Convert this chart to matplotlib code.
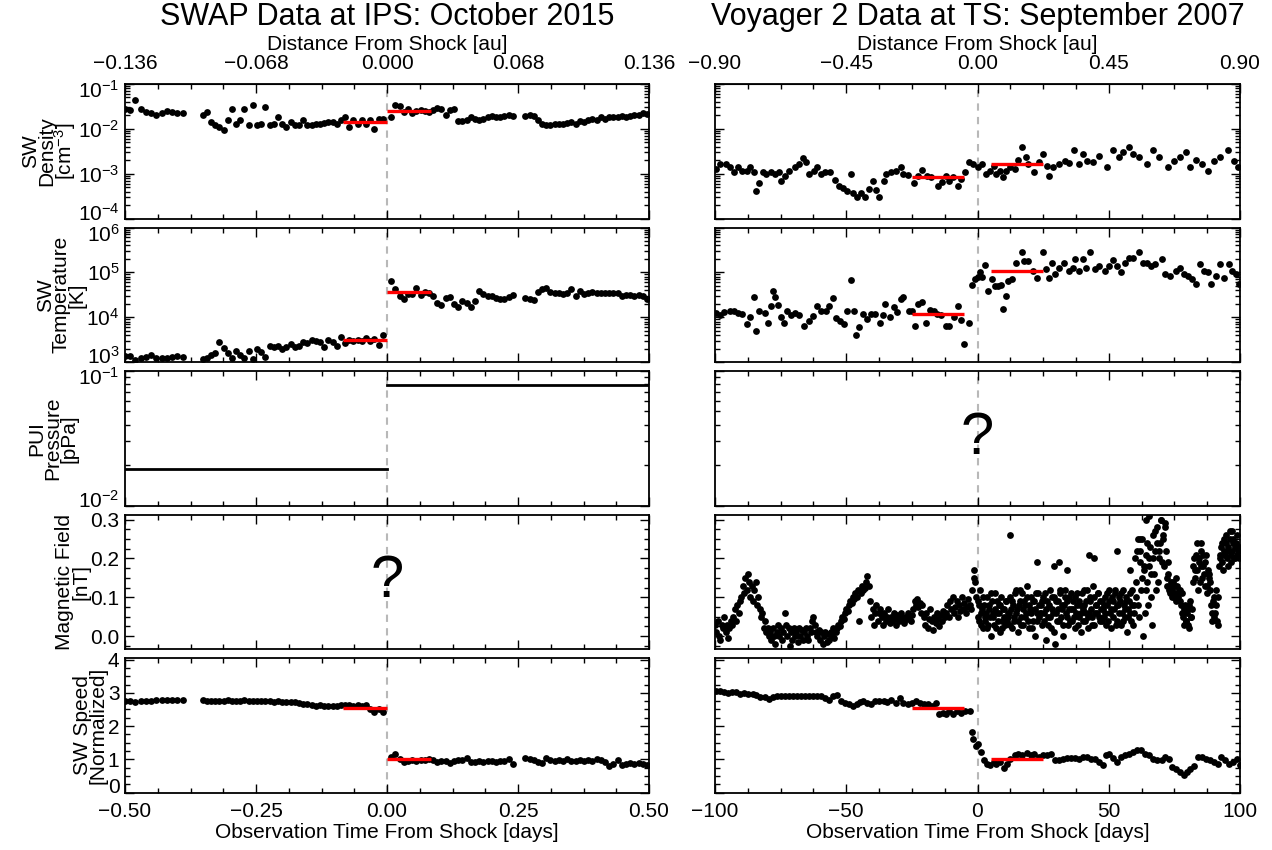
import math
import matplotlib
matplotlib.use("Agg")
import matplotlib.pyplot as plt
from matplotlib.ticker import MultipleLocator, LogLocator, NullFormatter, FuncFormatter, FixedLocator
from matplotlib.transforms import ScaledTranslation

plt.rcParams['font.family'] = ['Liberation Sans', 'DejaVu Sans']
plt.rcParams['mathtext.fontset'] = 'custom'
plt.rcParams['mathtext.rm'] = 'Liberation Sans'
plt.rcParams['mathtext.it'] = 'Liberation Sans:italic'
plt.rcParams['mathtext.bf'] = 'Liberation Sans:bold'

# ---------------- SWAP / IPS (October 2015), time in days ----------------
ips_t = [-0.500, -0.490, -0.480, -0.470, -0.460, -0.450, -0.440, -0.430, -0.420, -0.410, -0.400, -0.390,
         -0.352, -0.344, -0.336, -0.328, -0.320, -0.312, -0.304, -0.296, -0.288, -0.280, -0.272, -0.264,
         -0.256, -0.248, -0.240, -0.232, -0.224, -0.216, -0.208, -0.200, -0.192, -0.184, -0.176, -0.168,
         -0.160, -0.152, -0.144, -0.136, -0.128, -0.120, -0.112, -0.104, -0.096, -0.088, -0.080, -0.072,
         -0.064, -0.056, -0.048, -0.040, -0.032, -0.024, -0.016, -0.008,
         0.008, 0.016, 0.024, 0.032, 0.040, 0.048, 0.056, 0.064, 0.072, 0.080,
         0.088, 0.096, 0.104, 0.112, 0.120, 0.128, 0.136, 0.144, 0.152, 0.160,
         0.168, 0.176, 0.184, 0.192, 0.200, 0.208, 0.216, 0.224, 0.232, 0.240,
         0.264, 0.272, 0.280, 0.288, 0.296, 0.304, 0.312, 0.320, 0.328, 0.336,
         0.344, 0.352, 0.360, 0.368, 0.376, 0.384, 0.392, 0.400, 0.408, 0.416,
         0.424, 0.432, 0.440, 0.448, 0.456, 0.464, 0.472, 0.480, 0.488, 0.496]
ips_density = [0.028, 0.026, 0.045, 0.028, 0.024, 0.022, 0.020, 0.023, 0.025, 0.024, 0.023, 0.022,
               0.020, 0.024, 0.014, 0.012, 0.011, 0.0095, 0.016, 0.028, 0.013, 0.016,
               0.028, 0.012, 0.034, 0.012, 0.013, 0.030, 0.012, 0.013, 0.018, 0.013,
               0.011, 0.014, 0.012, 0.012, 0.016, 0.012, 0.012, 0.0125, 0.013, 0.0135,
               0.014, 0.014, 0.013, 0.016, 0.018, 0.011, 0.016, 0.013, 0.016, 0.013,
               0.016, 0.0098, 0.017, 0.017,
               0.018, 0.034, 0.033, 0.024, 0.027, 0.023, 0.025, 0.026, 0.025, 0.024,
               0.026, 0.029, 0.028, 0.020, 0.026, 0.027, 0.015, 0.015, 0.016, 0.018,
               0.017, 0.016, 0.017, 0.018, 0.019, 0.018, 0.018, 0.019, 0.020, 0.019,
               0.019, 0.020, 0.019, 0.016, 0.013, 0.012, 0.012, 0.0125, 0.013, 0.013,
               0.0135, 0.014, 0.013, 0.015, 0.014, 0.016, 0.017, 0.016, 0.018, 0.017,
               0.018, 0.018, 0.018, 0.019, 0.018, 0.019, 0.020, 0.020, 0.022, 0.021]
ips_temp = [1350, 1350, 1100, 1200, 1300, 1400, 1250, 1250, 1250, 1300, 1350, 1300,
            1170, 1200, 1400, 1560, 2750, 2100, 1600, 1200, 1750, 1400,
            1250, 1750, 1150, 1950, 1650, 1270, 2300, 2150, 2300, 2000,
            2150, 2500, 2150, 2300, 2750, 2650, 3050, 2900, 2750, 2150,
            3150, 2750, 2300, 3700, 2600, 3150, 3000, 3100, 3000, 3500,
            3000, 3200, 2450, 4100,
            65000, 43000, 29500, 25000, 33000, 33000, 45000, 31000, 37000, 34000,
            29500, 21000, 18500, 27000, 28000, 19500, 17000, 23000, 20500, 17000,
            23000, 38000, 33000, 29500, 30000, 27000, 25000, 26000, 28000, 32000,
            27000, 26000, 24000, 37000, 42000, 45000, 37000, 35000, 35000, 33000,
            35000, 43000, 29500, 38000, 33000, 35000, 37000, 35000, 35000, 34000,
            35000, 34000, 35000, 30000, 31000, 31000, 30000, 31000, 29000, 26000]
ips_speed = [2.77, 2.77, 2.73, 2.75, 2.77, 2.75, 2.78, 2.78, 2.78, 2.78, 2.79, 2.80,
             2.78, 2.75, 2.76, 2.77, 2.76, 2.77, 2.78, 2.77, 2.76, 2.77,
             2.78, 2.77, 2.76, 2.77, 2.75, 2.76, 2.75, 2.74, 2.75, 2.74,
             2.73, 2.74, 2.72, 2.68, 2.66, 2.65, 2.64, 2.60, 2.62, 2.60,
             2.59, 2.61, 2.60, 2.63, 2.64, 2.62, 2.60, 2.62, 2.60, 2.63,
             2.50, 2.42, 2.50, 2.42,
             1.07, 1.15, 1.00, 0.92, 0.96, 0.97, 0.95, 0.97, 0.98, 1.00,
             0.99, 0.92, 0.96, 0.94, 0.88, 0.94, 0.97, 0.99, 1.05, 0.91,
             0.93, 0.95, 0.92, 0.94, 0.95, 0.93, 0.96, 0.94, 1.00, 0.86,
             1.05, 1.01, 0.98, 0.91, 0.89, 1.05, 0.99, 0.94, 0.97, 0.95,
             1.02, 0.94, 0.95, 0.99, 0.96, 0.97, 0.95, 1.00, 0.97, 0.91,
             0.79, 0.86, 0.97, 0.82, 0.87, 0.88, 0.87, 0.88, 0.86, 0.82]
ips_pui_pressure = [0.0187, 0.079]          # upstream, downstream [pPa]
ips_mean_windows = [(-0.0833, 0.0), (0.0, 0.0833)]
ips_density_mean = [0.014, 0.025]
ips_temp_mean = [3150, 36000]
ips_speed_mean = [2.54, 1.0]

# ---------------- Voyager 2 / TS (September 2007), time in days ----------------
vgr_dens_t = [-99.5, -98, -95.7, -94.2, -92.6, -91.1, -89.6, -88, -86.5, -85.3,
              -84.2, -83.1, -81.9, -80.4, -78.8, -77.3, -75.7, -74.7, -73.4, -71.9,
              -69.6, -68.1, -66.5, -65.5, -64.2, -62.4, -61.2, -59.6, -58.1, -56.3,
              -54.3, -52.7, -51.2, -49.7, -48.1, -47.3, -45.8, -44.3, -42.7, -41.5,
              -40, -38.6, -37.4, -35.8, -34.8, -32.8, -31.2, -29.2, -28.2, -26.6,
              -24.3, -22.8, -21.3, -19.4, -17.9, -15.1, -13.6, -12, -10.8, -9.3,
              -7.4, -6.2, -4.7, -3.1, -1.6, 0.2, 1.8, 3.3, 4.8, 6.1,
              7.1, 8.7, 9.9, 11, 12.5, 14.1, 15.6, 16.8, 18.3, 19.4,
              21.7, 23.3, 24.8, 26.3, 27.1, 28.6, 30.9, 33.2, 34.8, 36.8,
              38.6, 40.1, 41.7, 44, 46.3, 49.4, 51.7, 54, 55.5, 57.8,
              59.3, 61.6, 64.7, 67, 69.3, 72.4, 74.7, 77, 79.3, 80.8,
              83.1, 85.4, 87.7, 90, 92.3, 95.4, 97.7, 99.2]
vgr_density = [1.3e-3, 1.65e-3, 1.65e-3, 1.4e-3, 1.07e-3, 1.4e-3, 1.17e-3, 1.17e-3, 1.4e-3, 1.07e-3,
               4.2e-4, 6.1e-4, 1.07e-3, 9.8e-4, 1.07e-3, 9.8e-4, 1.1e-3, 7e-4, 9e-4, 1.17e-3,
               1.4e-3, 1.65e-3, 2.2e-3, 1.8e-3, 9.8e-4, 1.17e-3, 1.4e-3, 9.8e-4, 1.07e-3, 1.07e-3,
               7.3e-4, 5.2e-4, 4.9e-4, 4.2e-4, 9.8e-4, 3.8e-4, 3e-4, 3.8e-4, 3e-4, 4.5e-4,
               7e-4, 4.3e-4, 3e-4, 7e-4, 9.8e-4, 1.07e-3, 1.17e-3, 1.4e-3, 1e-3, 9.4e-4,
               6.1e-4, 9e-4, 1.2e-3, 9e-4, 8.3e-4, 5.4e-4, 6.4e-4, 9e-4, 7e-4, 8.3e-4,
               5.4e-4, 7.6e-4, 1.07e-3, 1.8e-3, 1.65e-3, 1.4e-3, 1.65e-3, 9.8e-4, 1.17e-3, 1.45e-3,
               9.8e-4, 1.17e-3, 8.3e-4, 1.17e-3, 1.4e-3, 1.28e-3, 2e-3, 3.9e-3, 2.3e-3, 1.65e-3,
               1.07e-3, 1.8e-3, 2.8e-3, 1.5e-3, 9e-4, 1.4e-3, 1.65e-3, 1.9e-3, 1.75e-3, 3.3e-3,
               1.65e-3, 2.8e-3, 1.9e-3, 1.8e-3, 2.5e-3, 1.4e-3, 3.3e-3, 2.3e-3, 3e-3, 3.9e-3,
               2.8e-3, 2.3e-3, 1.65e-3, 3.4e-3, 2.3e-3, 1.4e-3, 1.9e-3, 2.3e-3, 3e-3, 1.4e-3,
               2e-3, 1.65e-3, 1.17e-3, 1.9e-3, 2.3e-3, 3.3e-3, 1.9e-3, 1.4e-3]
vgr_temp_t = [-99.5, -98, -96.5, -94.2, -92.6, -91.1, -89.6, -88, -86.5, -85,
              -84.2, -83.1, -81.1, -79.9, -78.8, -78, -77, -76, -75, -73.9,
              -72.7, -71.1, -69.6, -68.1, -66.1, -64.2, -62.7, -61.2, -59.6, -57.8,
              -56.6, -55, -53.8, -52.3, -50.9, -49.7, -48.1, -47, -46.1, -45,
              -43.5, -42, -40.4, -38.9, -37.1, -36.1, -35.1, -33.5, -32, -30.5,
              -29.2, -28.2, -26.2, -25.1, -24, -22.8, -21.3, -19.7, -18.2, -16.6,
              -15.4, -13.9, -12, -10.8, -9, -7.4, -6.2, -5.1, -3.1, -2,
              -1, 0.2, 1, 1.8, 3, 4.1, 5.6, 6.7, 7.9, 9.1,
              9.9, 10.7, 11.7, 13.3, 14.8, 16.8, 17.9, 19.4, 21, 22.5,
              24.8, 26, 27.1, 28.2, 29.4, 30.9, 32.8, 34.8, 36.3, 37.1,
              38.6, 40.1, 41.4, 42.9, 44.8, 46.3, 48.6, 50.1, 51.7, 53.2,
              54.7, 56.3, 57.8, 59.3, 61.6, 63.2, 64.7, 66.2, 67.8, 70.1,
              71.6, 73.2, 75.5, 77, 78.5, 80.1, 81.6, 83.1, 84.7, 86.2,
              87.7, 89, 90.8, 92.3, 93.9, 95.7, 97, 98.5, 99.7]
vgr_temp = [12600, 11000, 13000, 13500, 13500, 12600, 11500, 6900, 10200, 28000,
            4900, 14000, 12600, 7600, 18000, 38000, 28000, 19000, 10200, 7400,
            13500, 11000, 12600, 11000, 6300, 8100, 10500, 18000, 13500, 13500,
            17500, 27000, 9400, 8100, 6900, 13500, 69000, 14000, 4100, 6000,
            12000, 8900, 12000, 12000, 7400, 11000, 20000, 10000, 16800, 13000,
            25000, 28000, 14000, 13500, 6400, 20000, 21500, 7600, 14500, 14000,
            12000, 11000, 6400, 6200, 10000, 18000, 8700, 2500, 7600, 51000,
            72000, 80000, 100000, 80000, 146000, 38000, 70000, 49000, 50000, 52000,
            15600, 29000, 64000, 70000, 160000, 290000, 180000, 180000, 107000, 76000,
            280000, 117000, 76000, 165000, 90000, 127000, 165000, 107000, 127000, 195000,
            107000, 195000, 127000, 280000, 117000, 140000, 107000, 140000, 185000, 140000,
            100000, 165000, 210000, 210000, 280000, 165000, 165000, 140000, 150000, 195000,
            90000, 82000, 107000, 127000, 90000, 82000, 70000, 54000, 150000, 107000,
            100000, 54000, 82000, 150000, 76000, 150000, 107000, 90000, 54000]
vgr_speed_t = [-99.5, -98, -96.5, -94.9, -93.4, -91.9, -90.3, -88.8, -87.3, -85.7,
               -84.2, -82.7, -81.1, -79.6, -78, -76.5, -75, -73.4, -71.9, -70.4,
               -68.8, -67.3, -65.8, -64.2, -62.7, -61.2, -59.6, -58.1, -56.6, -55,
               -53.5, -52, -50.4, -48.9, -47.3, -45.8, -44.6, -43.5, -42, -40.4,
               -38.9, -37.4, -35.8, -34.3, -32.8, -31.2, -29.7, -28.2, -26.6, -25.1,
               -23.6, -22, -20.5, -19, -17.4, -15.9, -14.8, -13.3, -12, -10.8,
               -9.3, -7.7, -6.4, -4.7, -2.8, -2.1, -1.6, -0.5, 0.2, 1.4,
               2.5, 3.6, 4.8, 6.1, 7.1, 8.7, 10.2, 11.3, 12.5, 14.1,
               15.6, 17.1, 18.7, 20.2, 21.7, 23.3, 24.8, 26.3, 27.9, 29.4,
               30.9, 32.5, 34, 35.5, 37.1, 38.6, 40.1, 41.7, 43.2, 44.7,
               46.3, 47.8, 49, 50.1, 51.7, 53.2, 54.7, 56.3, 57.8, 59.3,
               60.8, 62.4, 63.9, 65.5, 67, 68.5, 70.1, 71.6, 73.1, 74.2,
               75.8, 77, 78.5, 79.8, 80.8, 82.4, 83.9, 85.4, 87, 88.5,
               90, 91.6, 92.8, 94.2, 95.7, 97.2, 98.8, 100]
vgr_speed = [3.05, 3.05, 3.03, 3.0, 3.03, 3.02, 2.98, 3.0, 2.97, 2.98,
             2.95, 2.87, 2.87, 2.83, 2.87, 2.92, 2.9, 2.9, 2.9, 2.9,
             2.9, 2.92, 2.9, 2.92, 2.9, 2.9, 2.9, 2.85, 2.8, 2.9,
             2.95, 2.75, 2.7, 2.65, 2.6, 2.65, 2.72, 2.77, 2.7, 2.65,
             2.75, 2.75, 2.75, 2.72, 2.8, 2.7, 2.85, 2.7, 2.65, 2.7,
             2.75, 2.7, 2.65, 2.65, 2.6, 2.7, 2.37, 2.4, 2.37, 2.45,
             2.35, 2.45, 2.4, 2.45, 2.45, 1.81, 1.61, 1.41, 1.46, 1.21,
             0.97, 0.87, 0.82, 0.92, 0.85, 0.92, 0.75, 0.87, 1.02, 1.12,
             1.17, 1.12, 1.19, 1.12, 1.17, 1.07, 1.12, 1.12, 1.17, 0.97,
             0.97, 1.02, 1.05, 1.05, 1.05, 1.02, 1.07, 1.07, 1.02, 1.02,
             0.92, 0.82, 1.12, 1.17, 1.05, 0.92, 1.07, 1.12, 1.17, 1.22,
             1.27, 1.27, 1.17, 1.12, 1.02, 0.97, 0.99, 1.07, 1.02, 0.77,
             0.72, 0.62, 0.52, 0.62, 0.72, 0.79, 1.07, 1.07, 1.02, 0.97,
             0.92, 0.87, 1.07, 0.97, 0.87, 0.92, 1.02, 0.82]
vgr_b_t = [-100.0, -99.5, -99.0, -98.5, -98.0, -97.5, -97.0, -96.5, -96.0, -95.5, -95.0, -94.5, -94.0, -93.5, -93.0, -92.5, -92.0, -91.5, -91.0, -90.5,
           -90.0, -89.5, -89.0, -88.5, -88.0, -87.5, -87.0, -86.5, -86.0, -85.5, -85.0, -84.5, -84.0, -83.5, -83.0, -82.5, -82.0, -81.5, -81.0, -80.5,
           -80.0, -79.5, -79.0, -78.5, -78.0, -77.5, -77.0, -76.5, -76.0, -75.5, -75.0, -74.5, -74.0, -73.5, -73.0, -72.5, -72.0, -71.5, -71.0, -70.5,
           -70.0, -69.5, -69.0, -68.5, -68.0, -67.5, -67.0, -66.5, -66.0, -65.5, -65.0, -64.5, -64.0, -63.5, -63.0, -62.5, -62.0, -61.5, -61.0, -60.5,
           -60.0, -59.5, -59.0, -58.5, -58.0, -57.5, -57.0, -56.5, -56.0, -55.5, -55.0, -54.5, -54.0, -53.5, -53.0, -52.5, -52.0, -51.5, -51.0, -50.5,
           -50.0, -49.5, -49.0, -48.5, -48.0, -47.5, -47.0, -46.5, -46.0, -45.5, -45.0, -44.5, -44.0, -43.5, -43.0, -42.5, -42.0, -41.5, -41.0, -40.5,
           -40.0, -39.5, -39.0, -38.5, -38.0, -37.5, -37.0, -36.5, -36.0, -35.5, -35.0, -34.5, -34.0, -33.5, -33.0, -32.5, -32.0, -31.5, -31.0, -30.5,
           -30.0, -29.5, -29.0, -28.5, -28.0, -27.5, -27.0, -26.5, -26.0, -25.5, -25.0, -24.5, -24.0, -23.5, -23.0, -22.5, -22.0, -21.5, -21.0, -20.5,
           -20.0, -19.5, -19.0, -18.5, -18.0, -17.5, -17.0, -16.5, -16.0, -15.5, -15.0, -14.5, -14.0, -13.5, -13.0, -12.5, -12.0, -11.5, -11.0, -10.5,
           -10.0, -9.5, -9.0, -8.5, -8.0, -7.5, -7.0, -6.5, -6.0, -5.5, -5.0, -4.5, -4.0, -3.5, -3.0, -2.5, -2.0, -1.5, -1.0, -0.5,
           0.0, 0.5, 1.0, 1.5, 2.0, 2.5, 3.0, 3.5, 4.0, 4.5, 5.0, 5.5, 6.0, 6.5, 7.0, 7.5, 8.0, 8.5, 9.0, 9.5,
           10.0, 10.5, 11.0, 11.5, 12.0, 12.5, 13.0, 13.5, 14.0, 14.5, 15.0, 15.5, 16.0, 16.5, 17.0, 17.5, 18.0, 18.5, 19.0, 19.5,
           20.0, 20.5, 21.0, 21.5, 22.0, 22.5, 23.0, 23.5, 24.0, 24.5, 25.0, 25.5, 26.0, 26.5, 27.0, 27.5, 28.0, 28.5, 29.0, 29.5,
           30.0, 30.5, 31.0, 31.5, 32.0, 32.5, 33.0, 33.5, 34.0, 34.5, 35.0, 35.5, 36.0, 36.5, 37.0, 37.5, 38.0, 38.5, 39.0, 39.5,
           40.0, 40.5, 41.0, 41.5, 42.0, 42.5, 43.0, 43.5, 44.0, 44.5, 45.0, 45.5, 46.0, 46.5, 47.0, 47.5, 48.0, 48.5, 49.0, 49.5,
           50.0, 50.5, 51.0, 51.5, 52.0, 52.5, 53.0, 53.5, 54.0, 54.5, 55.0, 55.5, 56.0, 56.5, 57.0, 57.5, 58.0, 58.5, 59.0, 59.5,
           60.0, 60.5, 61.0, 61.5, 62.0, 62.5, 63.0, 63.5, 64.0, 64.5, 65.0, 65.5, 66.0, 66.5, 67.0, 67.5, 68.0, 68.5, 69.0, 69.5,
           70.0, 70.5, 71.0, 71.5, 72.0, 72.5, 73.0, 73.5, 74.0, 74.5, 75.0, 75.5, 76.0, 76.5, 77.0, 77.5, 78.0, 78.5, 79.0, 79.5,
           80.0, 80.5, 81.0, 81.5, 82.0, 82.5, 83.0, 83.5, 84.0, 84.5, 85.0, 85.5, 86.0, 86.5, 87.0, 87.5, 88.0, 88.5, 89.0, 89.5,
           90.0, 90.5, 91.0, 91.5, 92.0, 92.5, 93.0, 93.5, 94.0, 94.5, 95.0, 95.5, 96.0, 96.5, 97.0, 97.5, 98.0, 98.5, 99.0, 99.5,
           -1.5, 12.5, 22.5, 29.0, 31.0, 34.0, 42.5, 44.5, 53.0, 58.0, 62.0, 64.0, 65.5, 85.0, 97.0]
vgr_b = [0.03, 0.01, 0.04, 0.0, -0.01, 0.03, 0.02, 0.05, 0.01, 0.03, -0.005, 0.02, 0.04, 0.03,
         0.05, 0.07, 0.04, 0.08, 0.06, 0.09,
         0.10, 0.13, 0.11, 0.15, 0.12, 0.16,
         0.14, 0.10, 0.13, 0.09, 0.12, 0.14, 0.08, 0.10,
         0.07, 0.05, 0.06, 0.02, 0.04, 0.01,
         0.02, 0.0, 0.01, -0.01, 0.02, 0.0, -0.02, 0.01, 0.03, 0.0, 0.02, -0.01, 0.01, 0.06, 0.03, 0.0, 0.02, -0.025, 0.01, -0.01,
         0.02, 0.0, 0.01, -0.015, 0.02, 0.0, 0.015, -0.01, 0.01, 0.02, 0.0, -0.01, 0.02, 0.01, 0.04, 0.05, 0.03, 0.01,
         0.0, 0.015, -0.01, 0.01, -0.02, 0.0, 0.01, -0.015, 0.005, -0.01, 0.01, 0.0, 0.02, -0.005, 0.01,
         0.02, 0.03, 0.025, 0.04, 0.05, 0.045, 0.06, 0.07, 0.065, 0.08, 0.09, 0.085, 0.10, 0.095, 0.11, 0.10, 0.12, 0.04, 0.11, 0.13,
         0.12, 0.125, 0.14, 0.155, 0.13,
         0.09, 0.05, 0.07, 0.03, 0.06, 0.08, 0.04, 0.06, 0.07,
         0.05, 0.03, 0.06, 0.04, 0.05, 0.07, 0.035, 0.05, 0.04, 0.06, 0.045, 0.03, 0.055, 0.04, 0.05, 0.06, 0.04, 0.035, 0.05, 0.045,
         0.06, 0.05, 0.04, 0.055,
         0.07, 0.09, 0.08, 0.095, 0.075, 0.085, 0.06, 0.08,
         0.05, 0.03, 0.06, 0.02, 0.045, 0.07, 0.04, 0.015, 0.05, 0.035, 0.06, 0.045, 0.025, 0.055, 0.04, 0.065, 0.05,
         0.06, 0.08, 0.05, 0.09, 0.07, 0.10, 0.06, 0.075, 0.09, 0.05, 0.08, 0.065, 0.10, 0.07, 0.085, 0.06, 0.075, 0.095, 0.08, 0.07,
         0.12, 0.17, 0.14, 0.10,
         0.09, 0.04, 0.12, 0.06, 0.02, 0.08, 0.05, 0.10, 0.03, 0.07, 0.0, 0.09, 0.05, 0.11, 0.02, 0.06, 0.08, 0.01, 0.10, 0.04,
         0.07, 0.03, 0.09, 0.05,
         0.06, 0.10, 0.02, 0.08, 0.04, 0.12, 0.07, 0.01, 0.09, 0.05, 0.11, 0.03, 0.08, 0.06, 0.13, 0.02, 0.07, 0.10, 0.04, 0.09,
         0.0, 0.06, 0.11, 0.05,
         0.08, 0.03, 0.10, 0.06, -0.01, 0.09, 0.05, 0.12, 0.02, 0.07, 0.10, -0.02, 0.06, 0.09, 0.04, 0.11, 0.07, 0.0, 0.08, 0.12,
         0.05, 0.03, 0.10, 0.07,
         0.04, 0.09, 0.02, 0.06, 0.11, 0.05, 0.08, 0.01, 0.07, 0.12, 0.04, 0.09, 0.02, 0.06, 0.10, 0.05, 0.13, 0.03, 0.08, 0.06,
         0.11, 0.04, 0.07, 0.09,
         0.05, 0.10, 0.03, 0.08, 0.12, 0.06, 0.02, 0.09, 0.07, 0.11, 0.04, 0.08, 0.10, 0.03, 0.06, 0.12, 0.05, 0.09, 0.01, 0.07,
         0.11, 0.04, 0.08, 0.06,
         0.20, 0.10, 0.25, 0.05, 0.22, 0.15, 0.0, 0.18, 0.12, 0.24, 0.08, 0.20, 0.16, 0.03, 0.26, 0.22, 0.12, 0.28, 0.20, 0.24,
         0.30, 0.26, 0.18, 0.29,
         0.15, 0.19, 0.12, 0.13, 0.10, 0.14, 0.11, 0.09, 0.13, 0.10, 0.12, 0.08,
         0.06, 0.03, 0.08, 0.04, 0.07, 0.02, 0.09, 0.05,
         0.14, 0.20, 0.17, 0.24, 0.12, 0.19, 0.22, 0.15, 0.18, 0.13, 0.21, 0.11, 0.16, 0.14,
         0.08, 0.04, 0.10, 0.06, 0.12, 0.03,
         0.18, 0.21, 0.24, 0.17, 0.22, 0.26, 0.20, 0.23, 0.27, 0.19, 0.22, 0.25, 0.20, 0.24, 0.21, 0.23,
         0.15, 0.26, 0.19, 0.18, 0.19, 0.17, 0.21, 0.20, 0.22, 0.17, 0.25, 0.30, 0.31, 0.24, 0.27]
# additional downstream magnetic-field samples (interleaved half-day offsets)
vgr_b2_t = [0.25, 0.75, 1.25, 1.75, 2.25, 2.75, 3.25, 3.75, 4.25, 4.75, 5.25, 5.75, 6.25, 6.75, 7.25, 7.75, 8.25, 8.75, 9.25, 9.75,
            10.25, 10.75, 11.25, 11.75, 12.25, 12.75, 13.25, 13.75, 14.25, 14.75, 15.25, 15.75, 16.25, 16.75, 17.25, 17.75, 18.25, 18.75, 19.25, 19.75,
            20.25, 20.75, 21.25, 21.75, 22.25, 22.75, 23.25, 23.75, 24.25, 24.75, 25.25, 25.75, 26.25, 26.75, 27.25, 27.75, 28.25, 28.75, 29.25, 29.75,
            30.25, 30.75, 31.25, 31.75, 32.25, 32.75, 33.25, 33.75, 34.25, 34.75, 35.25, 35.75, 36.25, 36.75, 37.25, 37.75, 38.25, 38.75, 39.25, 39.75,
            40.25, 40.75, 41.25, 41.75, 42.25, 42.75, 43.25, 43.75, 44.25, 44.75, 45.25, 45.75, 46.25, 46.75, 47.25, 47.75, 48.25, 48.75, 49.25, 49.75,
            50.25, 50.75, 51.25, 51.75, 52.25, 52.75, 53.25, 53.75, 54.25, 54.75, 55.25, 55.75, 56.25, 56.75, 57.25, 57.75, 58.25, 58.75, 59.25, 59.75,
            60.25, 60.75, 61.25, 61.75, 62.25, 62.75, 63.25, 63.75, 64.25, 64.75, 65.25, 65.75, 66.25, 66.75, 67.25, 67.75, 68.25, 68.75, 69.25, 69.75,
            70.25, 70.75, 71.25, 71.75, 72.25, 72.75, 73.25, 73.75, 74.25, 74.75, 75.25, 75.75, 76.25, 76.75, 77.25, 77.75, 78.25, 78.75, 79.25, 79.75,
            80.25, 80.75, 81.25, 81.75, 82.25, 82.75, 83.25, 83.75, 84.25, 84.75, 85.25, 85.75, 86.25, 86.75, 87.25, 87.75, 88.25, 88.75, 89.25, 89.75,
            90.25, 90.75, 91.25, 91.75, 92.25, 92.75, 93.25, 93.75, 94.25, 94.75, 95.25, 95.75, 96.25, 96.75, 97.25, 97.75, 98.25, 98.75, 99.25, 99.75]
vgr_b2 = [0.05, 0.08, 0.03, 0.07, 0.10, 0.04, 0.06, 0.02, 0.08, 0.05, 0.11, 0.06, 0.03, 0.07, 0.09, 0.04, 0.06, 0.08, 0.02, 0.07,
          0.05, 0.09, 0.04, 0.06,
          0.03, 0.07, 0.09, 0.05, 0.11, 0.06, 0.04, 0.08, 0.12, 0.03, 0.07, 0.09, 0.05, 0.10, 0.04, 0.08, 0.06, 0.02, 0.09, 0.07,
          0.11, 0.04, 0.08, 0.06,
          0.06, 0.09, 0.04, 0.11, 0.07, 0.03, 0.08, 0.05, 0.10, 0.06, 0.01, 0.09, 0.04, 0.07, 0.12, 0.05, 0.08, 0.03, 0.10, 0.06,
          0.09, 0.07, 0.04, 0.11,
          0.07, 0.05, 0.10, 0.08, 0.03, 0.09, 0.06, 0.11, 0.04, 0.08, 0.06, 0.12, 0.05, 0.09, 0.07, 0.03, 0.10, 0.06, 0.08, 0.11,
          0.05, 0.09, 0.04, 0.07,
          0.08, 0.06, 0.11, 0.04, 0.09, 0.07, 0.10, 0.05, 0.12, 0.03, 0.08, 0.06, 0.09, 0.11, 0.04, 0.08, 0.07, 0.10, 0.05, 0.09,
          0.06, 0.12, 0.03, 0.08,
          0.14, 0.22, 0.08, 0.19, 0.12, 0.25, 0.17, 0.06, 0.21, 0.14, 0.18, 0.23, 0.10, 0.20, 0.16, 0.27, 0.24, 0.14, 0.22, 0.30,
          0.19, 0.25, 0.28, 0.22,
          0.13, 0.16, 0.11, 0.14, 0.12, 0.10, 0.13, 0.15, 0.11, 0.12, 0.09, 0.11,
          0.05, 0.07, 0.04, 0.06, 0.03, 0.08, 0.05, 0.07,
          0.18, 0.15, 0.21, 0.17, 0.20, 0.14, 0.18, 0.21, 0.16, 0.19, 0.13, 0.17, 0.15, 0.12,
          0.06, 0.09, 0.05, 0.08, 0.04, 0.10,
          0.20, 0.23, 0.19, 0.25, 0.21, 0.24, 0.18, 0.22, 0.25, 0.21, 0.24, 0.20, 0.23, 0.26, 0.22, 0.20]
vgr_mean_windows = [(-25.0, -5.0), (5.0, 25.0)]
vgr_density_mean = [8.3e-4, 1.65e-3]
vgr_temp_mean = [11800, 107000]
vgr_speed_mean = [2.55, 1.0]

titles = ['SWAP Data at IPS: October 2015', 'Voyager 2 Data at TS: September 2007']
ylabels = ['SW\nDensity\n[cm$^{-3}$]', 'SW\nTemperature\n[K]', 'PUI\nPressure\n[pPa]',
           'Magnetic Field\n[nT]', 'SW Speed\n[Normalized]']
xlabel_bottom = 'Observation Time From Shock [days]'
xlabel_top = 'Distance From Shock [au]'
au_per_day = [0.272, 0.009]
top_ticks = [[-0.136, -0.068, 0.0, 0.068, 0.136], [-0.90, -0.45, 0.0, 0.45, 0.90]]
top_fmt = ['%.3f', '%.2f']

# ---------------- figure ----------------
W, H = 1272, 850
fig = plt.figure(figsize=(W / 100, H / 100), dpi=100)
rows_top = [84, 227.5, 371, 514.5, 658]
row_h = 134.5
cols = [(125, 524), (715, 525)]
FS = 15
DOT = dict(marker='o', ls='none', ms=4.9, mew=0, color='black', zorder=3)


def mfmt(fmt):
    return FuncFormatter(lambda v, p: (fmt % (v + 0.0)).replace('-', '\u2212'))


pow_fmt = FuncFormatter(lambda v, p: r'$10^{%d}$' % round(math.log10(v)))

axes = [[None, None] for _ in range(5)]
for r in range(5):
    for c in range(2):
        x0, w = cols[c]
        ax = fig.add_axes([x0 / W, 1 - (rows_top[r] + row_h) / H, w / W, row_h / H])
        axes[r][c] = ax
        if c == 0:
            ax.set_xlim(-0.5, 0.5)
            ax.xaxis.set_major_locator(MultipleLocator(0.25))
            ax.xaxis.set_minor_locator(MultipleLocator(0.0625))
            ax.xaxis.set_major_formatter(mfmt('%.2f'))
        else:
            ax.set_xlim(-100, 100)
            ax.xaxis.set_major_locator(MultipleLocator(50))
            ax.xaxis.set_minor_locator(MultipleLocator(12.5))
            ax.xaxis.set_major_formatter(mfmt('%d'))
        if r in (0, 1, 2):
            ax.set_yscale('log')
            lims = [(1e-4, 1e-1), (1e3, 1e6), (1e-2, 1e-1)][r]
            ax.set_ylim(*lims)
            decs = {0: [1e-4, 1e-3, 1e-2, 1e-1], 1: [1e3, 1e4, 1e5, 1e6], 2: [1e-2, 1e-1]}[r]
            ax.yaxis.set_major_locator(FixedLocator(decs))
            ax.yaxis.set_minor_locator(LogLocator(base=10, subs=range(2, 10), numticks=20))
            ax.yaxis.set_major_formatter(pow_fmt)
            ax.yaxis.set_minor_formatter(NullFormatter())
        elif r == 3:
            ax.set_ylim(-0.033, 0.313)
            ax.yaxis.set_major_locator(FixedLocator([0.0, 0.1, 0.2, 0.3]))
            ax.yaxis.set_minor_locator(MultipleLocator(0.025))
            ax.yaxis.set_major_formatter(mfmt('%.1f'))
        else:
            ax.set_ylim(0, 4.05)
            ax.yaxis.set_major_locator(FixedLocator([0, 1, 2, 3, 4]))
            ax.yaxis.set_minor_locator(MultipleLocator(0.25))
            ax.yaxis.set_major_formatter(mfmt('%d'))
        ax.tick_params(which='both', direction='in', top=True, right=True, labelsize=FS, width=1.0)
        ax.tick_params(which='major', length=6.5)
        ax.tick_params(which='minor', length=3.5)
        ax.tick_params(axis='x', pad=7)
        ax.tick_params(axis='y', pad=4)
        if r != 4:
            ax.tick_params(axis='x', labelbottom=False)
        else:
            ax.set_xlabel(xlabel_bottom, fontsize=FS, labelpad=1)
        if c == 1:
            ax.tick_params(axis='y', labelleft=False)
        else:
            ax.set_ylabel(ylabels[r], fontsize=FS, linespacing=0.78, labelpad=0)
        for s in ax.spines.values():
            s.set_linewidth(1.3)
        ax.axvline(0, color='#b8b8b8', lw=1.5, ls=(0, (3.5, 3)), zorder=1)

# top distance axes + titles
for c in range(2):
    ax = axes[0][c]
    k = au_per_day[c]
    sec = ax.secondary_xaxis('top', functions=(lambda d, k=k: d * k, lambda a, k=k: a / k))
    sec.xaxis.set_major_locator(FixedLocator(top_ticks[c]))
    sec.xaxis.set_minor_locator(FixedLocator([]))
    sec.xaxis.set_major_formatter(mfmt(top_fmt[c]))
    sec.tick_params(which='both', length=0, labelsize=FS, pad=8)
    sec.set_xlabel(xlabel_top, fontsize=FS, labelpad=3)
    x0, w = cols[c]
    fig.text((x0 + w / 2) / W, 1 - 17 / H, titles[c], ha='center', va='center', fontsize=22)

RED = dict(color='red', lw=2.4, solid_capstyle='butt', zorder=4)

# ---- IPS (left column) ----
ax = axes[0][0]
ax.plot(ips_t, ips_density, **DOT)
for (a, b), m in zip(ips_mean_windows, ips_density_mean):
    ax.plot([a, b], [m, m], **RED)
ax = axes[1][0]
ax.plot(ips_t, ips_temp, **DOT)
for (a, b), m in zip(ips_mean_windows, ips_temp_mean):
    ax.plot([a, b], [m, m], **RED)
ax = axes[2][0]
ax.plot([-0.5, 0.0], [ips_pui_pressure[0]] * 2, color='black', lw=2.0, zorder=3)
ax.plot([0.0, 0.5], [ips_pui_pressure[1]] * 2, color='black', lw=2.0, zorder=3)
axes[3][0].text(0.5, 0.5, '?', transform=axes[3][0].transAxes, ha='center', va='center', fontsize=43)
ax = axes[4][0]
ax.plot(ips_t, ips_speed, **DOT)
for (a, b), m in zip(ips_mean_windows, ips_speed_mean):
    ax.plot([a, b], [m, m], **RED)

# ---- Voyager 2 (right column) ----
ax = axes[0][1]
ax.plot(vgr_dens_t, vgr_density, **DOT)
for (a, b), m in zip(vgr_mean_windows, vgr_density_mean):
    ax.plot([a, b], [m, m], **RED)
ax = axes[1][1]
ax.plot(vgr_temp_t, vgr_temp, **DOT)
for (a, b), m in zip(vgr_mean_windows, vgr_temp_mean):
    ax.plot([a, b], [m, m], **RED)
axes[2][1].text(0.5, 0.5, '?', transform=axes[2][1].transAxes, ha='center', va='center', fontsize=43)
ax = axes[3][1]
ax.plot(vgr_b_t, vgr_b, **DOT)
ax.plot(vgr_b2_t, vgr_b2, **DOT)
ax = axes[4][1]
ax.plot(vgr_speed_t, vgr_speed, **DOT)
for (a, b), m in zip(vgr_mean_windows, vgr_speed_mean):
    ax.plot([a, b], [m, m], **RED)

fig.align_ylabels([axes[r][0] for r in range(5)])

# nudge end-of-axis tick labels inward, as in the original layout
up = ScaledTranslation(0, 7 / 100, fig.dpi_scale_trans)
down = ScaledTranslation(0, -5 / 100, fig.dpi_scale_trans)
for r in (0, 1, 2, 4):
    ticks = axes[r][0].yaxis.get_major_ticks()
    ticks[0].label1.set_transform(ticks[0].label1.get_transform() + up)
    if r != 4:
        ticks[-1].label1.set_transform(ticks[-1].label1.get_transform() + down)

fig.savefig('out.png', dpi=100)
